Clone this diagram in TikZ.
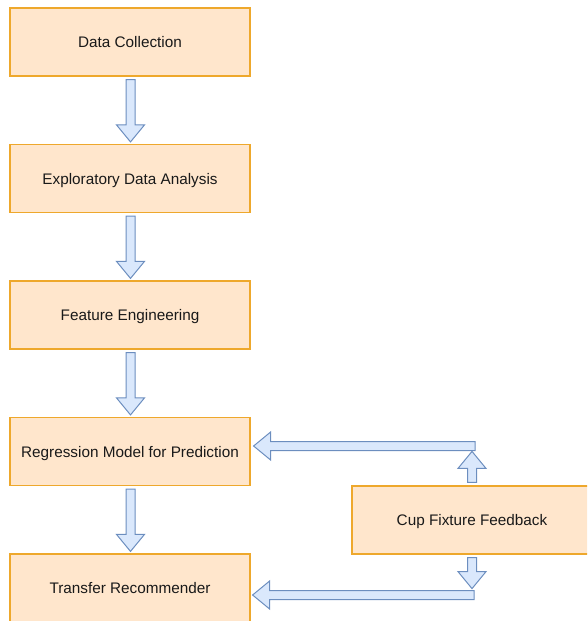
\documentclass[tikz,border=0pt]{standalone}
\usepackage{fontspec}
\setmainfont{Liberation Sans}
\usepackage{xcolor}
\definecolor{peach}{HTML}{FFE6CC}
\definecolor{amber}{HTML}{EEA82C}
\definecolor{skyfill}{HTML}{DAE8FC}
\definecolor{skyline}{HTML}{6C8EBF}
\usepackage{tikz}
\usetikzlibrary{calc}
\tikzstyle{stage} = [rectangle, draw=amber, fill=peach, line width=1.2pt,
  minimum width=240pt, minimum height=68pt, inner sep=0pt,
  text height=11pt, text depth=0pt,
  font=\fontsize{15.3}{18}\selectfont, text=black!90]
\tikzstyle{flex} = [draw=skyline, fill=skyfill, line width=1pt]

% block arrow from #1 to #2 (tip at #2)
\newcommand{\flexarrow}[2]{%
  \coordinate (fa-h) at ($(#2)!17pt!(#1)$);
  \path[flex] ($(#1)!4.5pt!90:(#2)$) -- ($(fa-h)!4.5pt!90:(#2)$)
    -- ($(fa-h)!14pt!90:(#2)$) -- (#2) -- ($(fa-h)!14pt!-90:(#2)$)
    -- ($(fa-h)!4.5pt!-90:(#2)$) -- ($(#1)!4.5pt!-90:(#2)$) -- cycle;}

\begin{document}
\begin{tikzpicture}[x=1pt, y=-1pt]
  \useasboundingbox (0,0) rectangle (587,621);
  \clip (0,0) rectangle (587,621);

  \node[stage] (collect) at (130, 42) {Data Collection};
  \node[stage] (eda) at (130, 178.5) {Exploratory Data Analysis};
  \node[stage] (feature) at (130, 315) {Feature Engineering};
  \node[stage] (model) at (130, 451.5) {Regression Model for Prediction};
  \node[stage] (recommend) at (130, 588) {Transfer Recommender};
  \node[stage] (cup) at (472, 520) {Cup Fixture Feedback};

  \coordinate (c1) at ($(collect.south)+(0.5,3)$);
  \coordinate (e1) at ($(eda.north)+(0.5,-2)$);
  \coordinate (c2) at ($(eda.south)+(0.5,3)$);
  \coordinate (e2) at ($(feature.north)+(0.5,-2)$);
  \coordinate (c3) at ($(feature.south)+(0.5,3)$);
  \coordinate (e3) at ($(model.north)+(0.5,-2)$);
  \coordinate (c4) at ($(model.south)+(0.5,3)$);
  \coordinate (e4) at ($(recommend.north)+(0.5,-2)$);
  \flexarrow{c1}{e1}
  \flexarrow{c2}{e2}
  \flexarrow{c3}{e3}
  \flexarrow{c4}{e4}

  % feedback loop
  \coordinate (up-s) at ($(cup.north)+(0,-3)$);
  \coordinate (up-e) at ($(cup.north)+(0,-34)$);
  \coordinate (back-s) at (475, 446);
  \coordinate (back-e) at ($(model.east)+(3,-5.5)$);
  \flexarrow{up-s}{up-e}
  \flexarrow{back-s}{back-e}

  \coordinate (dn-s) at ($(cup.south)+(0,3)$);
  \coordinate (dn-e) at ($(cup.south)+(0,34)$);
  \coordinate (fwd-s) at (474, 595);
  \coordinate (fwd-e) at ($(recommend.east)+(2,7)$);
  \flexarrow{dn-s}{dn-e}
  \flexarrow{fwd-s}{fwd-e}
\end{tikzpicture}
\end{document}
